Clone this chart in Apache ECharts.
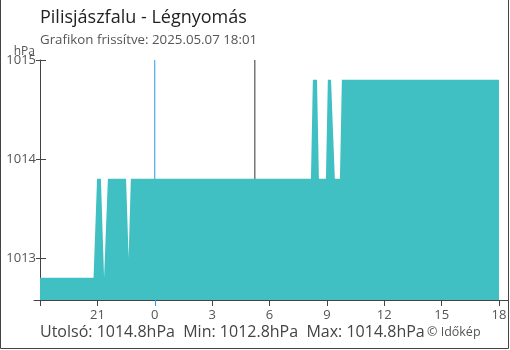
<!DOCTYPE html>
<html>
<head>
<meta charset="utf-8">
<script src="https://cdn.jsdelivr.net/npm/echarts@6/dist/echarts.min.js"></script>
<style>
html,body{margin:0;padding:0;background:#fff;}
#chart{width:510px;height:350px;}
</style>
</head>
<body>
<div id="chart"></div>
<script>
// ---- data ----
var titleText = 'Pilisjászfalu - Légnyomás';
var subtitleText = 'Grafikon frissítve: 2025.05.07 18:01';
var unit = 'hPa';
// time stamps (day-of-month, hour, minute) and pressure values
var times = [
  '06 18:00','06 20:48','06 20:59','06 21:11','06 21:21','06 21:33',
  '06 22:30','06 22:38','06 22:45','07 08:10','07 08:16','07 08:29',
  '07 08:35','07 08:57','07 09:03','07 09:13','07 09:25','07 09:41',
  '07 09:47','07 18:00'
];
var pressure = [
  1012.8,1012.8,1013.8,1013.8,1012.8,1013.8,
  1013.8,1013.0,1013.8,1013.8,1014.8,1014.8,
  1013.8,1013.8,1014.8,1014.8,1013.8,1013.8,
  1014.8,1014.8
];
var yTicks = [1013,1014,1015];
var xTickHours = [0,3,9,12,15,18,21,24];   // hours after start (18:00)
var xLabelHours = [3,6,9,12,15,18,21,24];
var midnightHour = 6;        // 00:00
var sunriseTime = '07 05:14';

// ---- helpers ----
function toHours(s){
  var d = parseInt(s.slice(0,2),10), h = parseInt(s.slice(3,5),10), m = parseInt(s.slice(6,8),10);
  return (d-6)*24 + h + m/60 - 18;
}
var seriesData = times.map(function(t,i){ return [toHours(t), pressure[i]]; });
var last = pressure[pressure.length-1];
var minV = Math.min.apply(null, pressure);
var maxV = Math.max.apply(null, pressure);
var statsText = 'Utolsó: ' + last.toFixed(1) + unit + '  Min: ' + minV.toFixed(1) + unit + '  Max: ' + maxV.toFixed(1) + unit;

var FONT = '"Open Sans", "Noto Sans", sans-serif';
var xMin = -0.314, xMax = 24.47;
var yMin = 1012.576, yMax = 1015;
var sunriseH = toHours(sunriseTime);

var chart = echarts.init(document.getElementById('chart'), null, {renderer:'canvas'});
chart.setOption({
  animation: false,
  backgroundColor: '#fff',
  textStyle: {fontFamily: FONT},
  grid: {left: 34, right: 2, top: 60, bottom: 50, containLabel: false, outerBoundsMode: 'none'},
  xAxis: [{
    type: 'value', min: xMin, max: xMax,
    axisLine: {show: true, onZero: false, lineStyle: {color: '#444', width: 1}},
    axisTick: {show: true, customValues: xTickHours, length: 6, lineStyle: {color: '#444'}},
    axisLabel: {show: true, customValues: xLabelHours, margin: 9, color: '#555', fontSize: 13, fontFamily: FONT,
      hideOverlap: false,
      formatter: function(v){ return String(Math.round(v + 18) % 24); }},
    splitLine: {show: false}
  },{
    type: 'value', min: xMin, max: xMax, position: 'bottom',
    axisLine: {show: false, onZero: false},
    axisTick: {show: true, customValues: [midnightHour], length: 6, lineStyle: {color: '#2b9be8'}},
    axisLabel: {show: false},
    splitLine: {show: false}
  }],
  yAxis: [{
    type: 'value', min: yMin, max: yMax, position: 'left',
    axisLine: {show: true, onZero: true, onZeroAxisIndex: 0, lineStyle: {color: '#444', width: 1}},
    axisTick: {show: true, customValues: yTicks, length: 4, lineStyle: {color: '#444'}},
    axisLabel: {show: true, customValues: yTicks, margin: -2, color: '#555', fontSize: 13, fontFamily: FONT,
      formatter: function(v){ return String(v); }},
    splitLine: {show: false}
  },{
    type: 'value', min: yMin, max: yMax, position: 'left',
    axisLine: {show: false, onZero: true, onZeroAxisIndex: 1},
    axisTick: {show: true, inside: true, customValues: yTicks, length: 6, lineStyle: {color: '#444'}},
    axisLabel: {show: false},
    splitLine: {show: false}
  }],
  series: [{
    type: 'line', z: 1, silent: true, symbol: 'none', color: '#2b9be8',
    data: [[midnightHour, yMin], [midnightHour, yMax]],
    lineStyle: {color: '#2b9be8', width: 1}
  },{
    type: 'line', z: 1, silent: true, symbol: 'none', color: '#333',
    data: [[sunriseH, yMin], [sunriseH, yMax]],
    lineStyle: {color: '#333', width: 1}
  },{
    type: 'line', z: 3, data: seriesData, symbol: 'none', silent: true,
    lineStyle: {width: 0, color: '#40c0c2'},
    areaStyle: {color: '#40c0c2', opacity: 1, origin: 'start'}
  }],
  graphic: [
    {type: 'rect', silent: true, shape: {x: 0.5, y: -5, width: 508, height: 353.5},
      style: {fill: 'none', stroke: '#444', lineWidth: 1}},
    {type: 'text', x: 40, y: 18, style: {text: titleText, font: '18px ' + FONT, fill: '#222', verticalAlign: 'middle'}},
    {type: 'text', x: 40, y: 40, style: {text: subtitleText, font: '13.3px ' + FONT, fill: '#555', verticalAlign: 'middle'}},
    {type: 'text', x: 35, y: 52, style: {text: unit, font: '12px ' + FONT, fill: '#555', align: 'right', verticalAlign: 'middle'}},
    {type: 'text', x: 40, y: 332, style: {text: statsText, font: '16px ' + FONT, fill: '#444', verticalAlign: 'middle'}},
    {type: 'text', x: 427, y: 332, style: {text: '© Időkép', font: '12.5px ' + FONT, fill: '#555', verticalAlign: 'middle'}}
  ]
});
</script>
</body>
</html>
